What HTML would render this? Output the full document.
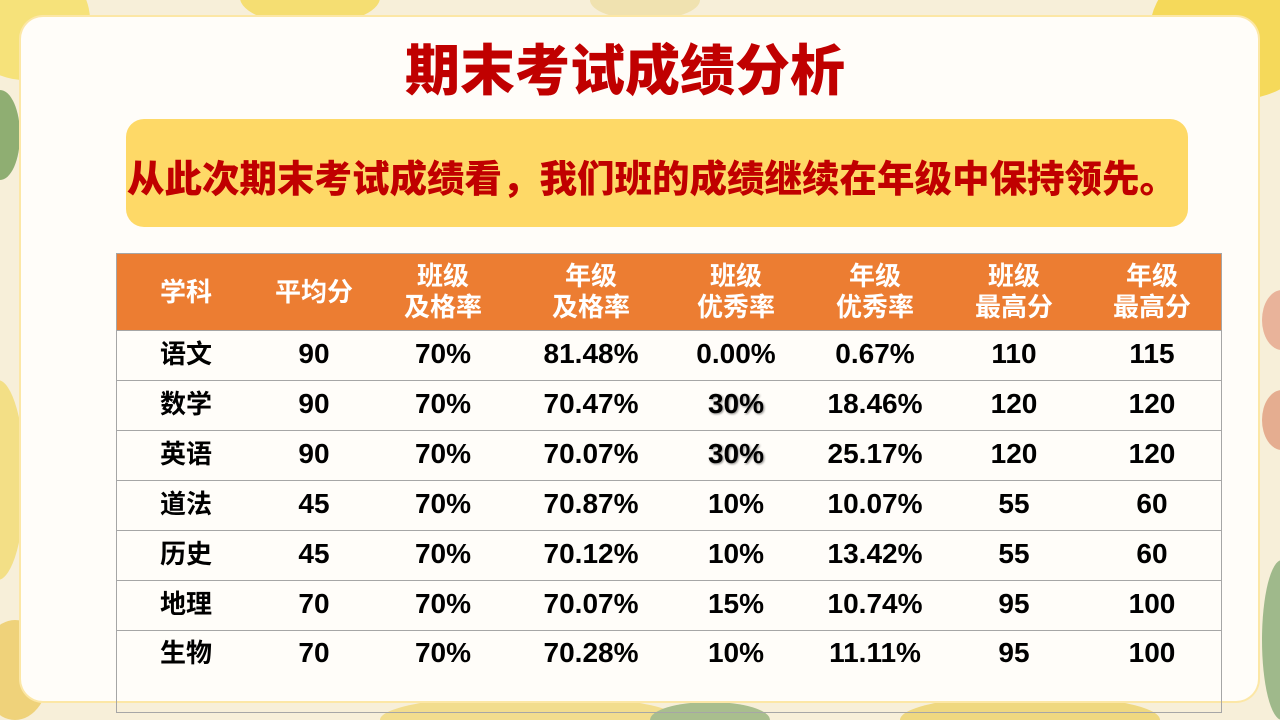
<!DOCTYPE html>
<html><head><meta charset="utf-8">
<style>
html,body{margin:0;padding:0;width:1280px;height:720px;overflow:hidden;}
body{position:relative;
background:#f7efd9;
font-family:"Liberation Sans","Noto Sans CJK SC",sans-serif;}
.bg{position:absolute;border-radius:50%;}
.card{position:absolute;left:21px;top:17px;width:1237px;height:684px;background:#fffdf9;border-radius:22px;box-shadow:0 0 0 2px #fce7a6;}
.title{position:absolute;left:380px;width:490px;top:41px;height:60px;line-height:60px;text-align:center;color:#c00000;font-size:55px;font-weight:900;white-space:nowrap;}
.ybox{position:absolute;left:126px;top:119px;width:1062px;height:108px;background:#fed967;border-radius:18px;}
.sub{position:absolute;left:126px;top:154px;width:1062px;height:50px;line-height:50px;color:#c00000;font-size:37.5px;font-weight:900;white-space:nowrap;text-align:left;text-indent:1px;}
.head{position:absolute;left:116px;top:253px;width:1106px;height:77px;background:#ec7d32;border-top:1px solid #a6a6a6;box-sizing:border-box;}
.cell{position:absolute;text-align:center;white-space:nowrap;}
.h{color:#fff;font-size:26px;font-weight:bold;line-height:31px;}
.d{color:#000;font-size:28px;font-weight:bold;line-height:50px;height:50px;}
.d.c{font-size:26px;}
.hl{position:absolute;left:116px;width:1106px;height:1px;background:#a6a6a6;}
.vl{position:absolute;top:253px;width:1px;height:460px;background:#a6a6a6;}
.sh{text-shadow:1px 1px 2px rgba(0,0,0,.45);}
</style></head>
<body>
<!-- background decorations -->
<div class="bg" style="left:-40px;top:-40px;width:130px;height:120px;background:#f6e27a;"></div>
<div class="bg" style="left:-20px;top:90px;width:40px;height:90px;background:#8fae72;"></div>
<div class="bg" style="left:-30px;top:380px;width:55px;height:200px;background:#f3df86;"></div>
<div class="bg" style="left:-20px;top:620px;width:70px;height:100px;background:#efd27a;"></div>
<div class="bg" style="left:240px;top:-30px;width:140px;height:55px;background:#f5de72;"></div>
<div class="bg" style="left:590px;top:-20px;width:110px;height:40px;background:#f0e2b0;"></div>
<div class="bg" style="left:1150px;top:-40px;width:170px;height:140px;background:#f5d95a;"></div>
<div class="bg" style="left:1262px;top:290px;width:40px;height:60px;background:#e9b39a;"></div>
<div class="bg" style="left:1262px;top:390px;width:40px;height:60px;background:#e5ad90;"></div>
<div class="bg" style="left:1262px;top:560px;width:40px;height:160px;background:#9fb98b;"></div>
<div class="bg" style="left:380px;top:695px;width:300px;height:50px;background:#f2dd8e;"></div>
<div class="bg" style="left:900px;top:695px;width:260px;height:50px;background:#efd880;"></div>
<div class="bg" style="left:650px;top:702px;width:120px;height:36px;background:#a9be8e;"></div>

<div class="card"></div>
<div class="title">期末考试成绩分析</div>
<div class="ybox"></div>
<div class="sub">从此次期末考试成绩看，我们班的成绩继续在年级中保持领先。</div>

<div class="head"></div>
<!-- header cells -->
<div class="cell h" style="left:116px;width:140px;top:277px;">学科</div>
<div class="cell h" style="left:256px;width:116px;top:277px;">平均分</div>
<div class="cell h" style="left:372px;width:142px;top:261px;">班级<br>及格率</div>
<div class="cell h" style="left:514px;width:154px;top:261px;">年级<br>及格率</div>
<div class="cell h" style="left:668px;width:136px;top:261px;">班级<br>优秀率</div>
<div class="cell h" style="left:804px;width:142px;top:261px;">年级<br>优秀率</div>
<div class="cell h" style="left:946px;width:136px;top:261px;">班级<br>最高分</div>
<div class="cell h" style="left:1082px;width:140px;top:261px;">年级<br>最高分</div>

<!-- lines -->
<div class="hl" style="top:330px;"></div>
<div class="hl" style="top:380px;"></div>
<div class="hl" style="top:430px;"></div>
<div class="hl" style="top:480px;"></div>
<div class="hl" style="top:530px;"></div>
<div class="hl" style="top:580px;"></div>
<div class="hl" style="top:630px;"></div>
<div class="hl" style="top:712px;"></div>
<div class="vl" style="left:116px;"></div>
<div class="vl" style="left:1221px;"></div>

<!-- row 1 -->
<div class="cell d c" style="left:116px;width:140px;top:329px;">语文</div>
<div class="cell d" style="left:256px;width:116px;top:329px;">90</div>
<div class="cell d" style="left:372px;width:142px;top:329px;">70%</div>
<div class="cell d" style="left:514px;width:154px;top:329px;">81.48%</div>
<div class="cell d" style="left:668px;width:136px;top:329px;">0.00%</div>
<div class="cell d" style="left:804px;width:142px;top:329px;">0.67%</div>
<div class="cell d" style="left:946px;width:136px;top:329px;">110</div>
<div class="cell d" style="left:1082px;width:140px;top:329px;">115</div>
<!-- row 2 -->
<div class="cell d c" style="left:116px;width:140px;top:379px;">数学</div>
<div class="cell d" style="left:256px;width:116px;top:379px;">90</div>
<div class="cell d" style="left:372px;width:142px;top:379px;">70%</div>
<div class="cell d" style="left:514px;width:154px;top:379px;">70.47%</div>
<div class="cell d sh" style="left:668px;width:136px;top:379px;">30%</div>
<div class="cell d" style="left:804px;width:142px;top:379px;">18.46%</div>
<div class="cell d" style="left:946px;width:136px;top:379px;">120</div>
<div class="cell d" style="left:1082px;width:140px;top:379px;">120</div>
<!-- row 3 -->
<div class="cell d c" style="left:116px;width:140px;top:429px;">英语</div>
<div class="cell d" style="left:256px;width:116px;top:429px;">90</div>
<div class="cell d" style="left:372px;width:142px;top:429px;">70%</div>
<div class="cell d" style="left:514px;width:154px;top:429px;">70.07%</div>
<div class="cell d sh" style="left:668px;width:136px;top:429px;">30%</div>
<div class="cell d" style="left:804px;width:142px;top:429px;">25.17%</div>
<div class="cell d" style="left:946px;width:136px;top:429px;">120</div>
<div class="cell d" style="left:1082px;width:140px;top:429px;">120</div>
<!-- row 4 -->
<div class="cell d c" style="left:116px;width:140px;top:479px;">道法</div>
<div class="cell d" style="left:256px;width:116px;top:479px;">45</div>
<div class="cell d" style="left:372px;width:142px;top:479px;">70%</div>
<div class="cell d" style="left:514px;width:154px;top:479px;">70.87%</div>
<div class="cell d" style="left:668px;width:136px;top:479px;">10%</div>
<div class="cell d" style="left:804px;width:142px;top:479px;">10.07%</div>
<div class="cell d" style="left:946px;width:136px;top:479px;">55</div>
<div class="cell d" style="left:1082px;width:140px;top:479px;">60</div>
<!-- row 5 -->
<div class="cell d c" style="left:116px;width:140px;top:529px;">历史</div>
<div class="cell d" style="left:256px;width:116px;top:529px;">45</div>
<div class="cell d" style="left:372px;width:142px;top:529px;">70%</div>
<div class="cell d" style="left:514px;width:154px;top:529px;">70.12%</div>
<div class="cell d" style="left:668px;width:136px;top:529px;">10%</div>
<div class="cell d" style="left:804px;width:142px;top:529px;">13.42%</div>
<div class="cell d" style="left:946px;width:136px;top:529px;">55</div>
<div class="cell d" style="left:1082px;width:140px;top:529px;">60</div>
<!-- row 6 -->
<div class="cell d c" style="left:116px;width:140px;top:579px;">地理</div>
<div class="cell d" style="left:256px;width:116px;top:579px;">70</div>
<div class="cell d" style="left:372px;width:142px;top:579px;">70%</div>
<div class="cell d" style="left:514px;width:154px;top:579px;">70.07%</div>
<div class="cell d" style="left:668px;width:136px;top:579px;">15%</div>
<div class="cell d" style="left:804px;width:142px;top:579px;">10.74%</div>
<div class="cell d" style="left:946px;width:136px;top:579px;">95</div>
<div class="cell d" style="left:1082px;width:140px;top:579px;">100</div>
<!-- row 7 -->
<div class="cell d c" style="left:116px;width:140px;top:628px;">生物</div>
<div class="cell d" style="left:256px;width:116px;top:628px;">70</div>
<div class="cell d" style="left:372px;width:142px;top:628px;">70%</div>
<div class="cell d" style="left:514px;width:154px;top:628px;">70.28%</div>
<div class="cell d" style="left:668px;width:136px;top:628px;">10%</div>
<div class="cell d" style="left:804px;width:142px;top:628px;">11.11%</div>
<div class="cell d" style="left:946px;width:136px;top:628px;">95</div>
<div class="cell d" style="left:1082px;width:140px;top:628px;">100</div>
</body></html>
